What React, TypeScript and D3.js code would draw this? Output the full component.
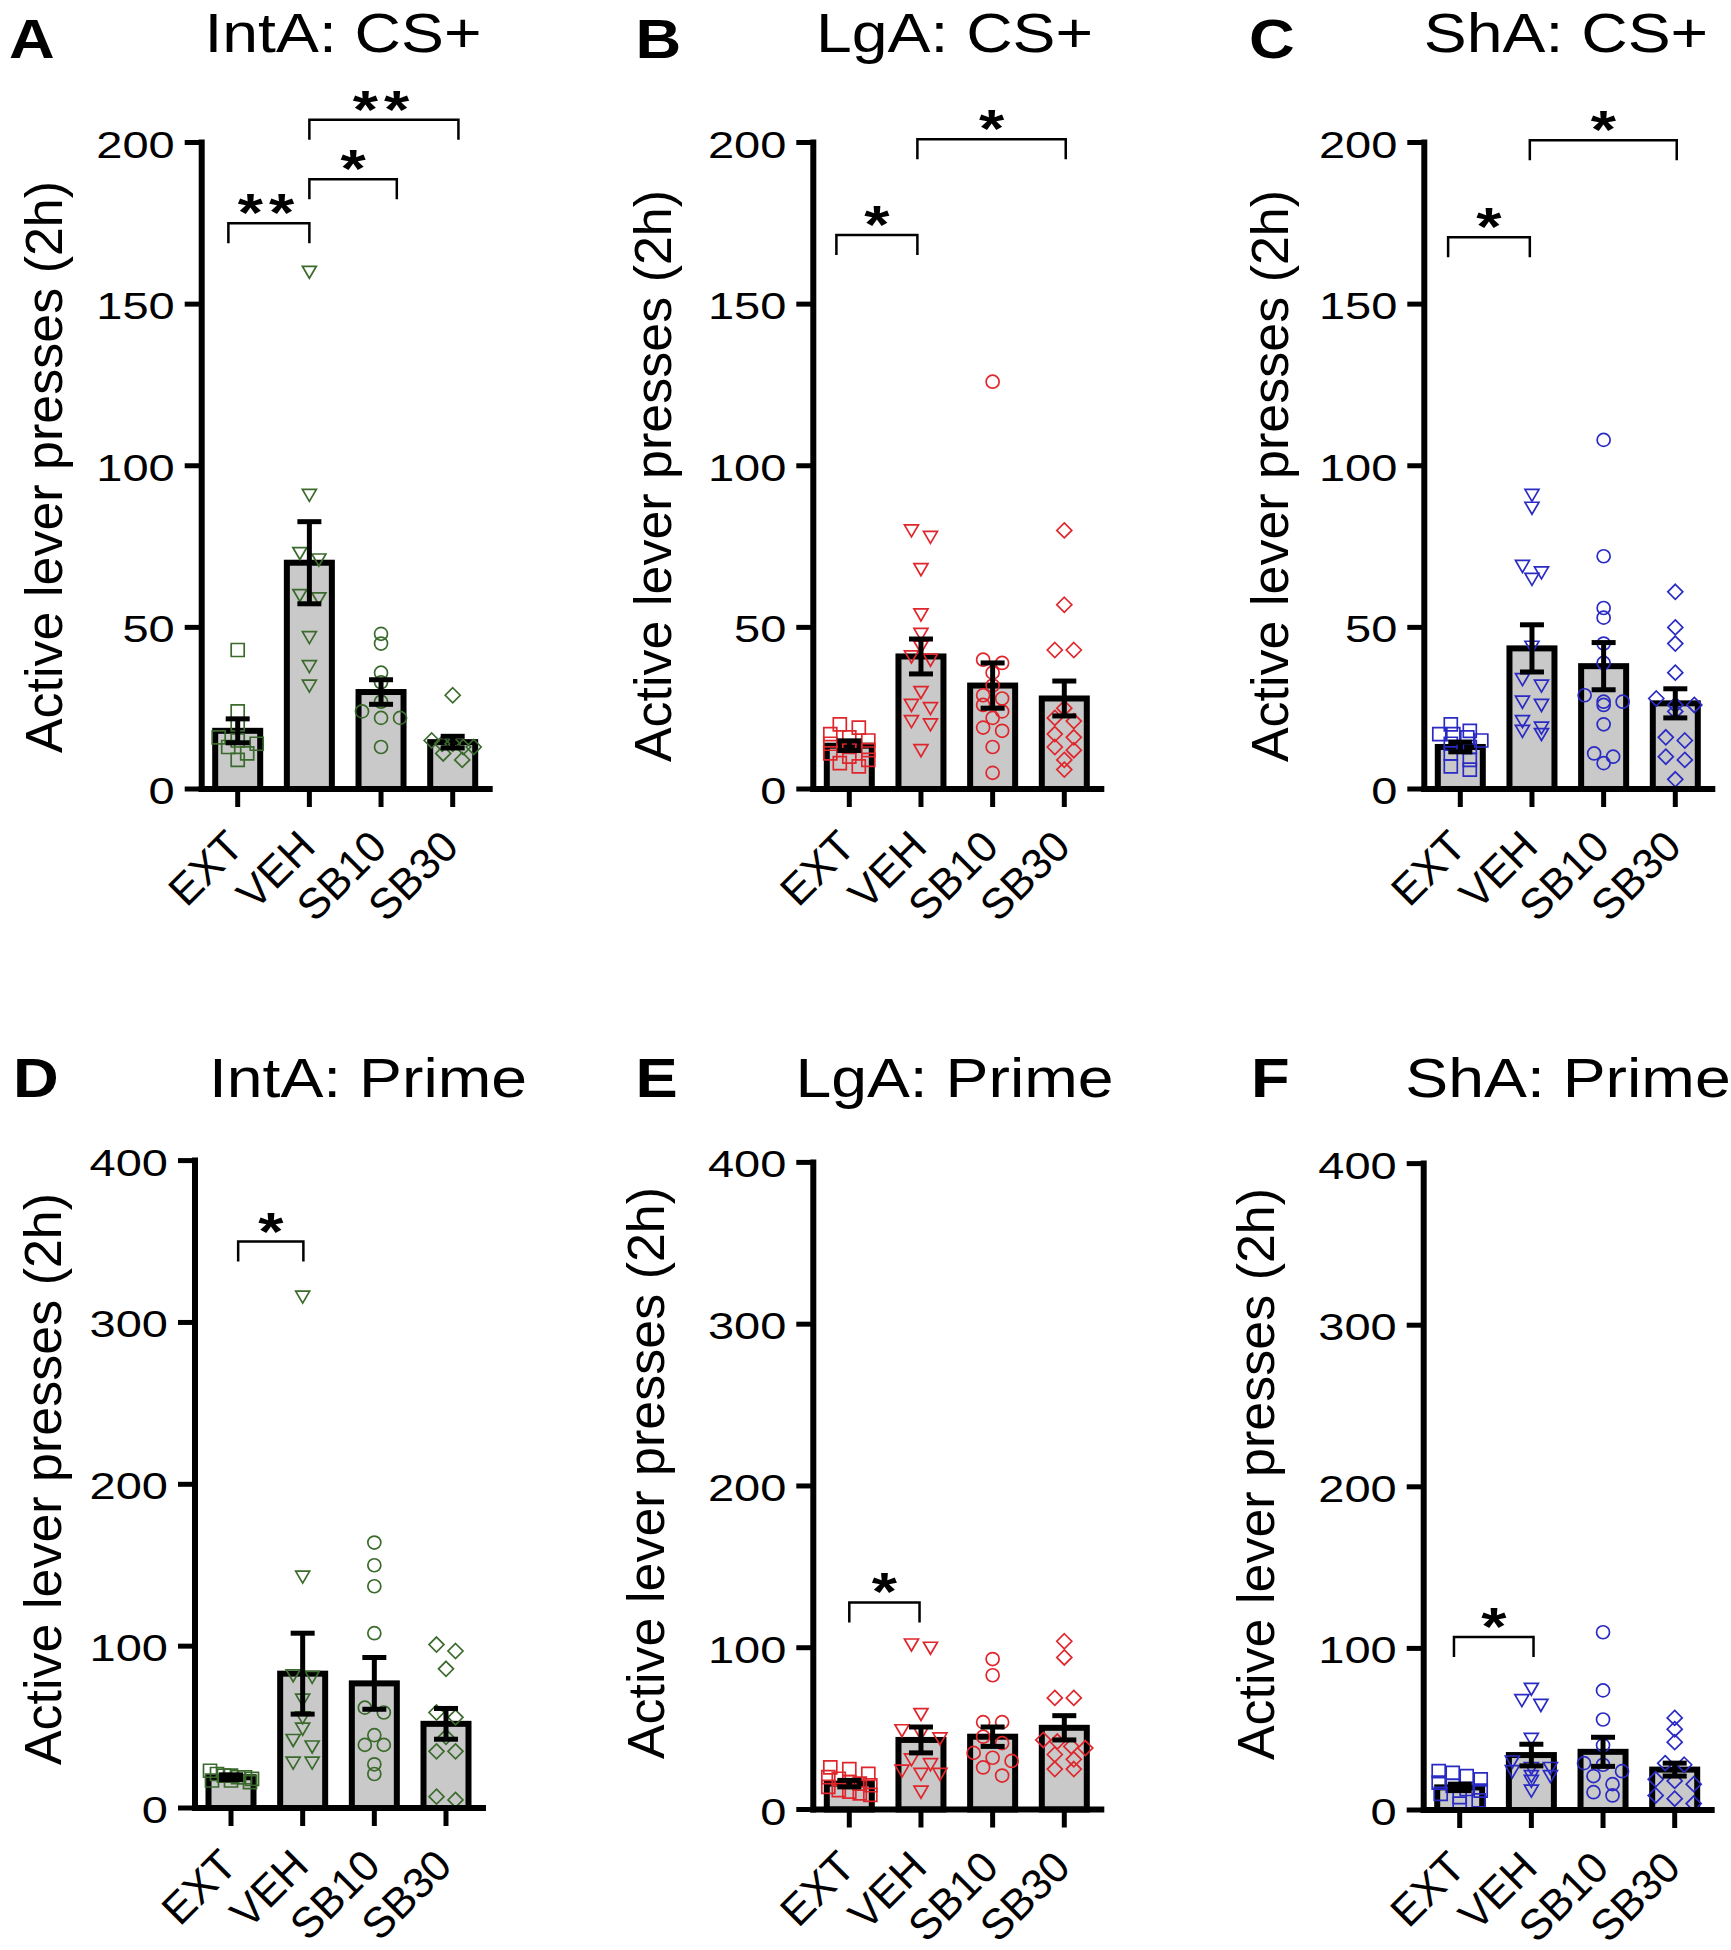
import React from "react";
import * as d3 from "d3";

// ---------- data ----------
const categories = ["EXT", "VEH", "SB10", "SB30"];
const csTicks = [0, 50, 100, 150, 200];
const primeTicks = [0, 100, 200, 300, 400];
const yLabel = "Active lever presses (2h)";

// A: IntA CS+
const intaCsMeans = [18, 70, 30, 14.5];
const intaCsSems = [3.7, 12.7, 3.8, 1.8];
const intaCsExt = [43, 24, 20, 16, 15, 14, 13, 11, 9];
const intaCsVeh = [160, 91, 73, 71, 60, 59, 47, 38, 32];
const intaCsSb10 = [48, 45, 36, 33, 27, 24, 22, 22, 13];
const intaCsSb30 = [29, 15, 14, 14, 13, 13, 11, 9];
const intaCsBrackets = [
  { from: -0.13, to: 1, y: 175, label: "**" },
  { from: 1, to: 2.22, y: 188.6, label: "*" },
  { from: 1, to: 3.08, y: 207, label: "**" },
];

// B: LgA CS+
const lgaCsMeans = [13.4, 41, 32, 28];
const lgaCsSems = [1.5, 5.4, 7, 5.4];
const lgaCsExt = [20, 19, 17, 16, 15, 14, 13, 12, 11, 10, 9, 8, 7];
const lgaCsVeh = [80, 78, 68, 54, 48, 44, 41, 40, 30, 26, 25, 21, 20, 12];
const lgaCsSb10 = [126, 40, 39, 36, 32, 29, 28, 26, 24, 22, 19, 18, 13, 5];
const lgaCsSb30 = [80, 57, 43, 43, 25, 22, 21, 17, 16, 13, 12, 9, 6];
const lgaCsBrackets = [
  { from: -0.18, to: 0.95, y: 171.4, label: "*" },
  { from: 0.95, to: 3.02, y: 201, label: "*" },
];

// C: ShA CS+
const shaCsMeans = [13, 43.5, 38, 26.5];
const shaCsSems = [1.5, 7.3, 7.3, 4.5];
const shaCsExt = [20, 18, 17, 17, 16, 15, 14, 13, 11, 9, 7, 6];
const shaCsVeh = [91, 87, 69, 67, 65, 44, 34, 32, 27, 26, 21, 19, 18, 17];
const shaCsSb10 = [108, 72, 56, 53, 45, 39, 29, 27, 27, 26, 20, 11, 10, 8];
const shaCsSb30 = [61, 50, 45, 36, 28, 26, 26, 24, 16, 15, 10, 9, 3];
const shaCsBrackets = [
  { from: -0.17, to: 0.97, y: 170.7, label: "*" },
  { from: 0.97, to: 3.02, y: 200.7, label: "*" },
];

// D: IntA Prime
const intaPrMeans = [19, 83, 77, 52];
const intaPrSems = [1.5, 25, 16, 9.5];
const intaPrExt = [23, 21, 20, 20, 19, 19, 18, 17, 17, 16];
const intaPrVeh = [316, 143, 82, 81, 67, 56, 49, 42, 38, 28, 28];
const intaPrSb10 = [164, 150, 137, 108, 62, 59, 45, 39, 39, 27, 21];
const intaPrSb30 = [101, 97, 86, 59, 56, 44, 35, 35, 7, 5];
const intaPrBrackets = [{ from: 0.1, to: 1.01, y: 350, label: "*" }];

// E: LgA Prime
const lgaPrMeans = [16, 43, 45, 50.5];
const lgaPrSems = [2, 8, 6, 7.5];
const lgaPrExt = [26, 25, 22, 20, 19, 17, 16, 15, 14, 12, 11, 10, 9];
const lgaPrVeh = [102, 100, 59, 49, 47, 44, 31, 28, 24, 22, 22, 11];
const lgaPrSb10 = [93, 83, 54, 54, 45, 41, 35, 32, 30, 26, 21];
const lgaPrSb30 = [104, 94, 69, 69, 43, 42, 39, 38, 34, 31, 25, 25];
const lgaPrBrackets = [{ from: 0, to: 0.98, y: 128, label: "*" }];

// F: ShA Prime
const shaPrMeans = [14, 34, 36, 25];
const shaPrSems = [2, 6.7, 9, 4];
const shaPrExt = [24, 23, 21, 19, 17, 15, 13, 12, 10, 8, 6, 4];
const shaPrVeh = [75, 68, 65, 44, 30, 26, 26, 24, 21, 21, 18, 12];
const shaPrSb10 = [110, 74, 56, 40, 29, 28, 24, 21, 16, 11, 9];
const shaPrSb30 = [57, 50, 42, 29, 28, 19, 18, 16, 9, 7, 4];
const shaPrBrackets = [{ from: -0.08, to: 1.03, y: 107, label: "*" }];

const GREEN = "#3b6b2c";
const RED = "#e0262c";
const BLUE = "#2a2ac4";

const panels = [
  { letter: "A", title: "IntA: CS+", color: GREEN, ticks: csTicks, means: intaCsMeans, sems: intaCsSems, points: [intaCsExt, intaCsVeh, intaCsSb10, intaCsSb30], brackets: intaCsBrackets },
  { letter: "B", title: "LgA: CS+", color: RED, ticks: csTicks, means: lgaCsMeans, sems: lgaCsSems, points: [lgaCsExt, lgaCsVeh, lgaCsSb10, lgaCsSb30], brackets: lgaCsBrackets },
  { letter: "C", title: "ShA: CS+", color: BLUE, ticks: csTicks, means: shaCsMeans, sems: shaCsSems, points: [shaCsExt, shaCsVeh, shaCsSb10, shaCsSb30], brackets: shaCsBrackets },
  { letter: "D", title: "IntA: Prime", color: GREEN, ticks: primeTicks, means: intaPrMeans, sems: intaPrSems, points: [intaPrExt, intaPrVeh, intaPrSb10, intaPrSb30], brackets: intaPrBrackets },
  { letter: "E", title: "LgA: Prime", color: RED, ticks: primeTicks, means: lgaPrMeans, sems: lgaPrSems, points: [lgaPrExt, lgaPrVeh, lgaPrSb10, lgaPrSb30], brackets: lgaPrBrackets },
  { letter: "F", title: "ShA: Prime", color: BLUE, ticks: primeTicks, means: shaPrMeans, sems: shaPrSems, points: [shaPrExt, shaPrVeh, shaPrSb10, shaPrSb30], brackets: shaPrBrackets },
];

// ---------- layout ----------
const layouts = [
  { axisX: 201.7, y0: 789, yTop: 142.5, titleX: 343, titleY: 52, letterX: 9, letterY: 57.6, labelX: 48, labelY: 467 },
  { axisX: 813.3, y0: 789, yTop: 142.5, titleX: 954.5, titleY: 52, letterX: 635.5, letterY: 57.6, labelX: 657, labelY: 476 },
  { axisX: 1424.3, y0: 789, yTop: 142.5, titleX: 1566, titleY: 52, letterX: 1249, letterY: 57.6, labelX: 1274, labelY: 476 },
  { axisX: 195, y0: 1808, yTop: 1160.6, titleX: 368, titleY: 1097, letterX: 13, letterY: 1097, labelX: 47, labelY: 1479 },
  { axisX: 813.3, y0: 1809.5, yTop: 1162.4, titleX: 954.5, titleY: 1097, letterX: 635.5, letterY: 1097, labelX: 650, labelY: 1473 },
  { axisX: 1423.7, y0: 1810, yTop: 1163.6, titleX: 1568, titleY: 1097, letterX: 1251, letterY: 1097, labelX: 1260, labelY: 1474 },
];

const FONT = "'Liberation Sans', Arial, Helvetica, sans-serif";
const SHAPES = ["square", "triangle", "circle", "diamond"];

function markerPath(shape: string, x: number, y: number): string {
  const p = d3.path();
  if (shape === "square") {
    p.rect(x - 6.5, y - 6.5, 13, 13);
  } else if (shape === "triangle") {
    p.moveTo(x - 7, y - 5.5);
    p.lineTo(x + 7, y - 5.5);
    p.lineTo(x, y + 6.5);
    p.closePath();
  } else if (shape === "circle") {
    p.moveTo(x + 6.5, y);
    p.arc(x, y, 6.5, 0, Math.PI * 2);
  } else {
    p.moveTo(x, y - 7.5);
    p.lineTo(x + 7.5, y);
    p.lineTo(x, y + 7.5);
    p.lineTo(x - 7.5, y);
    p.closePath();
  }
  return p.toString();
}

// column-scatter layout: points whose pixel heights fall into the same row
// are spread symmetrically around the column centre
function columnScatter(ys: number[], rowH = 9, spacing = 19, maxHalf = 21): number[] {
  const order = d3.range(ys.length).sort((a, b) => ys[a] - ys[b]);
  const out = new Array(ys.length).fill(0);
  let i = 0;
  while (i < order.length) {
    const start = ys[order[i]];
    const group = [order[i]];
    let j = i + 1;
    while (j < order.length && ys[order[j]] - start < rowH) {
      group.push(order[j]);
      j++;
    }
    const n = group.length;
    const sp = n > 1 ? Math.min(spacing, (2 * maxHalf) / (n - 1)) : 0;
    group.forEach((g, k) => {
      out[g] = (k - (n - 1) / 2) * sp;
    });
    i = j;
  }
  return out;
}

function Panel({ panel, layout }: { panel: any; layout: any }) {
  const { axisX, y0, yTop } = layout;
  const yMax = panel.ticks[panel.ticks.length - 1];
  const y = d3.scaleLinear().domain([0, yMax]).range([y0, yTop]);
  const x = d3.scalePoint<string>().domain(categories).range([axisX + 36, axisX + 251]);
  const step = x.step();
  const idx = d3.scaleLinear().domain([0, 1]).range([axisX + 36, axisX + 36 + step]);
  const barW = 45;
  const axisEnd = axisX + 291;

  return (
    <g>
      <text
        transform={`translate(${layout.letterX},${layout.letterY}) scale(1.15,1)`}
        fontFamily={FONT}
        fontWeight="bold"
        fontSize={55}
        fill="#000"
      >
        {panel.letter}
      </text>
      <text
        transform={`translate(${layout.titleX},${layout.titleY}) scale(1.17,1)`}
        textAnchor="middle"
        fontFamily={FONT}
        fontSize={55}
        fill="#000"
      >
        {panel.title}
      </text>
      <text
        transform={`translate(${layout.labelX + 14},${layout.labelY}) rotate(-90)`}
        textAnchor="middle"
        fontFamily={FONT}
        fontSize={52}
        fill="#000"
      >
        {yLabel}
      </text>

      {categories.map((c, i) => (
        <rect
          key={"bar" + c}
          x={(x(c) as number) - barW / 2}
          y={y(panel.means[i])}
          width={barW}
          height={y0 - y(panel.means[i])}
          fill="#c9c9c9"
          stroke="#000"
          strokeWidth={6}
        />
      ))}

      {categories.map((c, i) => {
        const vals: number[] = panel.points[i];
        const ys = vals.map((v) => y(v));
        const offs = columnScatter(ys);
        return (
          <g key={"pts" + c}>
            {vals.map((v, j) => (
              <path
                key={j}
                d={markerPath(SHAPES[i], (x(c) as number) + offs[j], ys[j])}
                fill="none"
                stroke={panel.color}
                strokeWidth={1.7}
              />
            ))}
          </g>
        );
      })}

      {categories.map((c, i) => {
        const cx = x(c) as number;
        const hi = y(panel.means[i] + panel.sems[i]);
        const lo = y(panel.means[i] - panel.sems[i]);
        return (
          <g key={"err" + c} stroke="#000" strokeWidth={5}>
            <line x1={cx} x2={cx} y1={hi} y2={lo} />
            <line x1={cx - 12} x2={cx + 12} y1={hi} y2={hi} />
            <line x1={cx - 12} x2={cx + 12} y1={lo} y2={lo} />
          </g>
        );
      })}

      <line x1={axisX} x2={axisX} y1={yTop - 3} y2={y0 + 3} stroke="#000" strokeWidth={6} />
      <line x1={axisX - 3} x2={axisEnd} y1={y0} y2={y0} stroke="#000" strokeWidth={6} />
      {panel.ticks.map((t: number) => (
        <g key={"yt" + t}>
          <line x1={axisX - 17} x2={axisX} y1={y(t)} y2={y(t)} stroke="#000" strokeWidth={5} />
          <text
            transform={`translate(${axisX - 27},${y(t) + 15}) scale(1.27,1)`}
            textAnchor="end"
            fontFamily={FONT}
            fontSize={37}
            fill="#000"
          >
            {t}
          </text>
        </g>
      ))}
      {categories.map((c) => (
        <g key={"xt" + c}>
          <line x1={x(c) as number} x2={x(c) as number} y1={y0} y2={y0 + 18} stroke="#000" strokeWidth={5} />
          <text
            transform={`translate(${(x(c) as number) + 8},${y0 + 60}) rotate(-45)`}
            textAnchor="end"
            fontFamily={FONT}
            fontSize={43}
            fill="#000"
          >
            {c}
          </text>
        </g>
      ))}

      {panel.brackets.map((b: any, k: number) => {
        const x1 = idx(b.from);
        const x2 = idx(b.to);
        const by = y(b.y);
        return (
          <g key={"br" + k}>
            <path
              d={`M${x1},${by + 20}V${by}H${x2}V${by + 20}`}
              fill="none"
              stroke="#000"
              strokeWidth={2.5}
            />
            <text
              transform={`translate(${(x1 + x2) / 2},${by + 8}) scale(1.2,1)`}
              textAnchor="middle"
              fontFamily={FONT}
              fontWeight="bold"
              fontSize={54}
              letterSpacing={b.label.length > 1 ? 5 : 0}
              fill="#000"
            >
              {b.label}
            </text>
          </g>
        );
      })}
    </g>
  );
}

export default function App() {
  return (
    <svg
      width={1731}
      height={1950}
      viewBox="0 0 1731 1950"
      style={{ position: "absolute", left: 0, top: 0, background: "#fff" }}
    >
      <rect x={0} y={0} width={1731} height={1950} fill="#fff" />
      {panels.map((p, i) => (
        <Panel key={p.letter} panel={p} layout={layouts[i]} />
      ))}
    </svg>
  );
}
